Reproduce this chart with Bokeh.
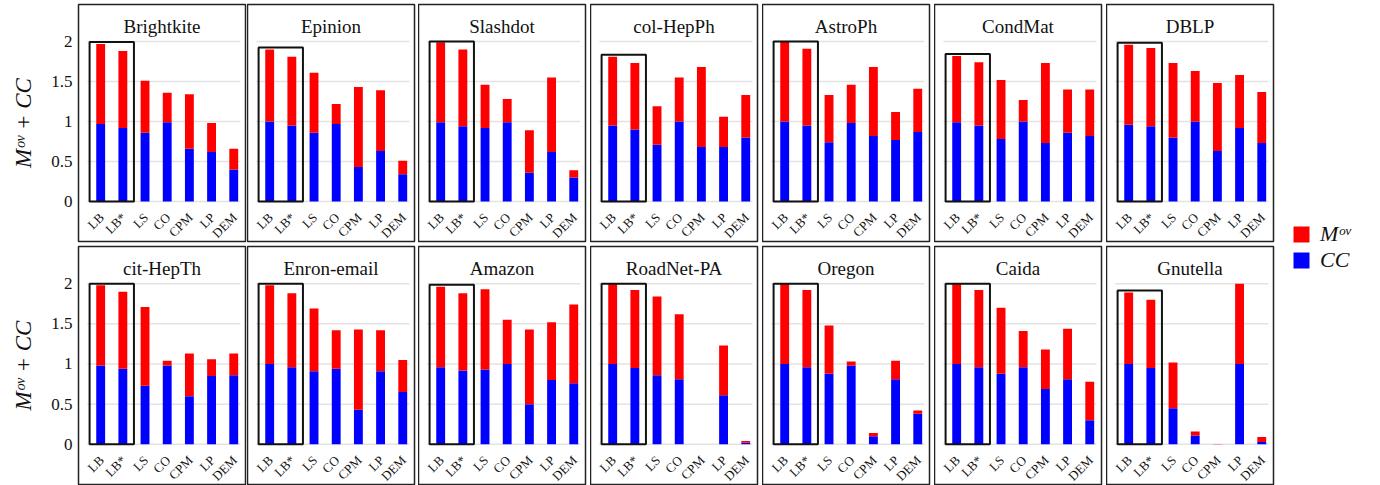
import math
from bokeh.plotting import figure
from bokeh.models import (ColumnDataSource, Range1d, FixedTicker, CustomJSTickFormatter,
                          Label, Legend, LegendItem)
from bokeh.layouts import gridplot, row
from bokeh.embed import file_html
from bokeh.resources import INLINE
from bokeh.core.properties import value

# ---------------- data ----------------
methods = ["LB", "LB*", "LS", "CO", "CPM", "LP", "DEM"]
datasets = ["Brightkite", "Epinion", "Slashdot", "col-HepPh", "AstroPh", "CondMat", "DBLP",
            "cit-HepTh", "Enron-email", "Amazon", "RoadNet-PA", "Oregon", "Caida", "Gnutella"]

brightkite_cc  = [0.97, 0.92, 0.86, 0.99, 0.66, 0.62, 0.40]
brightkite_mov = [1.00, 0.96, 0.65, 0.37, 0.68, 0.36, 0.26]
epinion_cc     = [1.00, 0.95, 0.86, 0.97, 0.43, 0.63, 0.34]
epinion_mov    = [0.90, 0.86, 0.75, 0.25, 1.00, 0.76, 0.17]
slashdot_cc    = [0.99, 0.94, 0.92, 0.99, 0.36, 0.62, 0.30]
slashdot_mov   = [1.00, 0.96, 0.54, 0.29, 0.53, 0.93, 0.09]
colhepph_cc    = [0.95, 0.90, 0.71, 1.00, 0.68, 0.68, 0.80]
colhepph_mov   = [0.86, 0.83, 0.48, 0.55, 1.00, 0.38, 0.53]
astroph_cc     = [1.00, 0.95, 0.74, 0.98, 0.82, 0.77, 0.87]
astroph_mov    = [1.00, 0.96, 0.59, 0.48, 0.86, 0.35, 0.54]
condmat_cc     = [0.99, 0.95, 0.78, 1.00, 0.73, 0.86, 0.82]
condmat_mov    = [0.83, 0.79, 0.74, 0.27, 1.00, 0.54, 0.58]
dblp_cc        = [0.96, 0.94, 0.80, 1.00, 0.63, 0.92, 0.73]
dblp_mov       = [1.00, 0.98, 0.93, 0.63, 0.85, 0.66, 0.64]
cithepth_cc    = [0.98, 0.94, 0.73, 0.98, 0.60, 0.85, 0.86]
cithepth_mov   = [1.00, 0.96, 0.98, 0.06, 0.53, 0.21, 0.27]
enron_cc       = [1.00, 0.96, 0.91, 0.94, 0.43, 0.91, 0.65]
enron_mov      = [0.98, 0.92, 0.78, 0.48, 1.00, 0.51, 0.40]
amazon_cc      = [0.96, 0.92, 0.93, 1.00, 0.50, 0.80, 0.76]
amazon_mov     = [1.00, 0.96, 1.00, 0.55, 0.93, 0.72, 0.98]
roadnet_cc     = [1.00, 0.95, 0.86, 0.81, 0.00, 0.61, 0.02]
roadnet_mov    = [1.00, 0.97, 0.98, 0.81, 0.00, 0.62, 0.02]
oregon_cc      = [1.00, 0.96, 0.88, 0.98, 0.10, 0.81, 0.38]
oregon_mov     = [1.00, 0.96, 0.60, 0.05, 0.04, 0.23, 0.04]
caida_cc       = [1.00, 0.96, 0.88, 0.96, 0.69, 0.81, 0.30]
caida_mov      = [1.00, 0.96, 0.82, 0.45, 0.49, 0.63, 0.48]
gnutella_cc    = [1.00, 0.95, 0.45, 0.11, 0.00, 1.00, 0.03]
gnutella_mov   = [0.89, 0.85, 0.57, 0.05, 0.005, 1.00, 0.06]

cc_series = [brightkite_cc, epinion_cc, slashdot_cc, colhepph_cc, astroph_cc, condmat_cc, dblp_cc,
             cithepth_cc, enron_cc, amazon_cc, roadnet_cc, oregon_cc, caida_cc, gnutella_cc]
mov_series = [brightkite_mov, epinion_mov, slashdot_mov, colhepph_mov, astroph_mov, condmat_mov, dblp_mov,
              cithepth_mov, enron_mov, amazon_mov, roadnet_mov, oregon_mov, caida_mov, gnutella_mov]

y_ticks = [0, 0.5, 1, 1.5, 2]
y_label = "M\u1d52\u1d5b + CC"
legend_labels = ["M\u1d52\u1d5b", "CC"]

# ---------------- style / layout ----------------
FONT = "Liberation Serif"
RED = "#ff0000"
BLUE = "#0000ff"
X_START, X_END = -1.0, 6.53
Y_START, Y_END = -0.5, 2.4625
FRAME_W = 167
LEFT = 78
COL_RIGHT = [2, 4, 5, 5, 5, 5, 3]          # right border of each column
ROW_TOP = [4, 2]
ROW_FRAME = [237, 238]
ROW_BOTTOM = [3, 1]

figs = []
for i, name in enumerate(datasets):
    r, c = divmod(i, 7)
    first = (c == 0)
    left = LEFT if first else 0
    w = left + FRAME_W + COL_RIGHT[c]
    h = ROW_TOP[r] + ROW_FRAME[r] + ROW_BOTTOM[r]
    p = figure(width=w, height=h,
               x_range=Range1d(X_START, X_END), y_range=Range1d(Y_START, Y_END),
               output_backend="svg", toolbar_location=None,
               x_axis_location=None, y_axis_location="left" if first else None,
               min_border_left=left, min_border_right=COL_RIGHT[c],
               min_border_top=ROW_TOP[r], min_border_bottom=ROW_BOTTOM[r])
    p.xgrid.grid_line_color = None
    p.ygrid.grid_line_color = None
    p.outline_line_color = "#222222"
    p.outline_line_width = 1.5
    p.background_fill_color = "white"
    p.border_fill_color = "white"

    if first:
        ax = p.yaxis[0]
        ax.ticker = FixedTicker(ticks=y_ticks)
        ax.formatter = CustomJSTickFormatter(code="return String(tick);")
        ax.axis_line_color = None
        ax.major_tick_line_color = None
        ax.major_tick_out = 0
        ax.major_tick_in = 0
        ax.minor_tick_line_color = None
        ax.minor_tick_out = 0
        ax.major_label_standoff = 6
        ax.major_label_text_font = FONT
        ax.major_label_text_font_size = "17px"
        ax.major_label_text_color = "#111111"
        ax.axis_label = y_label
        ax.axis_label_text_font = FONT
        ax.axis_label_text_font_style = "italic"
        ax.axis_label_text_font_size = "23px"
        ax.axis_label_text_color = "#111111"
        ax.axis_label_standoff = 12

    # light horizontal grid lines
    p.segment(x0=-0.6, x1=6.3, y0=y_ticks, y1=y_ticks, line_color="#e3e3e3", line_width=1.5)

    cc = cc_series[i]
    mov = mov_series[i]
    src = ColumnDataSource(dict(x=list(range(len(methods))), cc=cc, mov=mov, label=methods))
    p.vbar_stack(["cc", "mov"], x="x", width=0.4, fill_color=[BLUE, RED],
                 line_color=None, source=src)

    # frame around LB / LB*
    top = min(max(cc[0] + mov[0], cc[1] + mov[1]) + 0.025, 2.0)
    p.quad(left=[-0.5], right=[1.5], bottom=[0], top=[top],
           fill_color=None, line_color="#111111", line_width=2)

    # rotated category labels
    p.text(x="x", y=-0.17, text="label", source=src, angle=math.pi / 4,
           text_align="right", text_baseline="middle", x_offset=1,
           text_font=value(FONT), text_font_size="13px", text_color="#111111")

    p.add_layout(Label(x=(X_START + X_END) / 2, y=2.19, text=name,
                       text_align="center", text_baseline="middle",
                       text_font=FONT, text_font_size="19px", text_color="#111111"))
    figs.append(p)

grid = gridplot(figs, ncols=7, toolbar_location=None)

# legend panel
total_h = sum(ROW_TOP) + sum(ROW_FRAME) + sum(ROW_BOTTOM)
lf = figure(width=100, height=total_h, x_range=Range1d(0, 1), y_range=Range1d(0, 1),
            output_backend="svg", toolbar_location=None,
            x_axis_location=None, y_axis_location=None, min_border=0)
lf.xgrid.grid_line_color = None
lf.ygrid.grid_line_color = None
lf.outline_line_color = None
lf.background_fill_color = "white"
lf.border_fill_color = "white"
# hidden proxy renderers, used only for the legend swatches
r_mov = lf.vbar(x=[0.5], top=[0.5], width=0.1, fill_color=RED, line_color=None, visible=False)
r_cc = lf.vbar(x=[0.5], top=[0.5], width=0.1, fill_color=BLUE, line_color=None, visible=False)
leg = Legend(items=[LegendItem(label=value(legend_labels[0]), renderers=[r_mov]),
                    LegendItem(label=value(legend_labels[1]), renderers=[r_cc])],
             location=(15, 212), glyph_width=20, glyph_height=20, spacing=0,
             padding=0, margin=0, border_line_color=None, background_fill_alpha=0,
             inactive_fill_alpha=0, click_policy="none",
             label_standoff=9, label_text_font=FONT, label_text_font_style="italic",
             label_text_font_size="22px", label_text_color="#111111")
lf.add_layout(leg)

layout = row(grid, lf)
open("out.html", "w").write(file_html(layout, INLINE))
